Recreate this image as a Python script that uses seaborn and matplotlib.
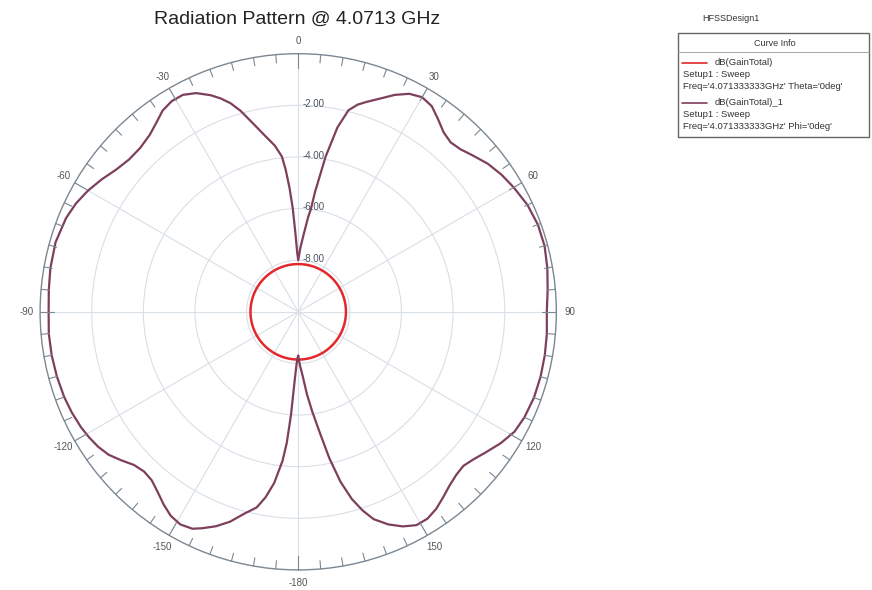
import matplotlib
matplotlib.use("Agg")
import matplotlib.pyplot as plt
import numpy as np
import pandas as pd
import seaborn as sns
from matplotlib.patches import Rectangle
from matplotlib.lines import Line2D

# %% data (angle in deg, gain in dB), Phi=0deg cut
phi_angles = [-180, -179, -178, -177, -176, -175, -174, -172, -170, -168,
              -165, -162, -159, -156, -154, -151, -148, -145, -142, -139,
              -136, -133, -130, -127, -124, -121, -118, -114, -110, -105,
              -100, -95, -90, -85, -80, -74, -68, -64, -60, -56,
              -52, -48, -44, -40, -37, -34, -31, -28, -25, -22,
              -20, -18, -16, -13, -11, -8, -6, -5, -4, -3,
              -2, -1, 0, 2, 4, 6, 7, 8, 10, 12,
              14, 16, 18, 21, 24, 27, 30, 33, 36, 39,
              42, 45, 48, 52, 56, 60, 65, 70, 75, 80,
              85, 90, 95, 100, 105, 110, 115, 119, 123, 127,
              130, 133, 136, 139, 142, 145, 148, 151, 154, 157,
              160, 162, 164, 166, 168, 170, 172, 174, 176, 178,
              179, 180]
phi_gain = [-8.3, -8.2, -7.9, -7.3, -6.0, -4.9, -4.2, -3.3, -2.7, -2.25,
            -1.9, -1.45, -1.1, -0.82, -0.65, -0.58, -0.68, -0.9, -1.15, -1.35,
            -1.4, -1.3, -1.05, -0.8, -0.65, -0.55, -0.47, -0.4, -0.35, -0.32,
            -0.3, -0.3, -0.33, -0.3, -0.25, -0.22, -0.3, -0.42, -0.6, -0.82,
            -1.05, -1.18, -1.18, -1.05, -0.85, -0.6, -0.48, -0.48, -0.65, -0.95,
            -1.2, -1.5, -1.9, -2.6, -3.0, -3.5, -3.95, -4.5, -5.2, -6.0,
            -7.0, -7.7, -8.0, -7.5, -7.0, -6.3, -6.0, -5.3, -3.9, -2.7,
            -1.95, -1.65, -1.45, -1.15, -0.8, -0.52, -0.4, -0.5, -0.78, -1.05,
            -1.17, -1.1, -0.93, -0.68, -0.5, -0.36, -0.2, -0.12, -0.12, -0.2,
            -0.3, -0.37, -0.33, -0.3, -0.28, -0.28, -0.33, -0.42, -0.65, -0.93,
            -1.12, -1.25, -1.2, -1.07, -0.88, -0.68, -0.55, -0.55, -0.75, -1.05,
            -1.45, -1.9, -2.45, -3.2, -4.2, -5.3, -6.1, -6.8, -7.5, -7.9,
            -8.1, -8.3]
theta_gain = -8.15  # Theta=0deg cut is flat

r_ticks = [-8, -6, -4, -2]
theta_ticks = [0, 30, 60, 90, 120, 150, 180, 210, 240, 270, 300, 330]
theta_labels = ["0", "30", "60", "90", "120", "150", "-180", "-150",
                "-120", "-90", "-60", "-30"]

legend_lines = [
    ("dB(GainTotal)", "Setup1 : Sweep", "Freq='4.071333333GHz' Theta='0deg'"),
    ("dB(GainTotal)_1", "Setup1 : Sweep", "Freq='4.071333333GHz' Phi='0deg'"),
]

red = "#e4282c"
maroon = "#7d3f5c"
grid_c = "#d9dfe7"
ring_c = "#7b8791"

# %% figure
sns.set_style("white")
plt.rcParams['font.family'] = ['Liberation Sans', 'DejaVu Sans']
plt.rcParams['axes.unicode_minus'] = False

fig = plt.figure(figsize=(8.72, 5.9), dpi=100)
ax = fig.add_axes([0.046, 0.034, 0.592, 0.875], projection='polar')
ax.set_theta_zero_location("N")
ax.set_theta_direction(-1)
ax.set_ylim(-10, 0)

df_phi = pd.DataFrame({"theta": np.deg2rad(phi_angles), "gain": phi_gain})
circle_t = np.linspace(-np.pi, np.pi, 361)
df_theta = pd.DataFrame({"theta": circle_t,
                         "gain": np.full(circle_t.size, theta_gain)})

sns.lineplot(data=df_theta, x="theta", y="gain", color=red, lw=1.8,
             ax=ax, sort=False, estimator=None)
sns.lineplot(data=df_phi, x="theta", y="gain", color=maroon, lw=1.6,
             ax=ax, sort=False, estimator=None)

# grid
ax.set_rgrids(r_ticks, labels=[""] * len(r_ticks))
ax.set_thetagrids(theta_ticks, labels=theta_labels)
ax.xaxis.grid(True, color=grid_c, lw=0.8)
ax.yaxis.grid(True, color=grid_c, lw=0.8)
ax.tick_params(axis='x', labelsize=7, labelcolor="#555555", pad=-1)
ax.spines['polar'].set_color(ring_c)
ax.spines['polar'].set_linewidth(1.0)
ax.set_xlabel("")
ax.set_ylabel("")

# small ticks on the outer ring every 5 deg
for a in range(0, 360, 5):
    t = np.deg2rad(a)
    ln = 0.55 if a % 30 == 0 else 0.32
    ax.plot([t, t], [0, -ln], color=ring_c, lw=0.8, clip_on=False)

for r in r_ticks:
    ax.annotate("%.2f" % r, xy=(0, r), xytext=(11, 1),
                textcoords='offset points', ha='center', va='center',
                fontsize=7, color="#4a5560")

fig.text(0.341, 0.968, "Radiation Pattern @ 4.0713 GHz", fontsize=14,
         ha='center', va='center', color="#222222")

# legend block drawn as in the HFSS curve info box
fig.text(0.838, 0.968, "HFSSDesign1", fontsize=6.5, ha='center',
         va='center', color="#333333")
box = Rectangle((0.778, 0.768), 0.218, 0.176, transform=fig.transFigure,
                fill=False, ec="#666666", lw=1.0)
fig.patches.append(box)
fig.add_artist(Line2D([0.778, 0.996], [0.912, 0.912],
                      transform=fig.transFigure, color="#999999", lw=0.6))
fig.text(0.889, 0.927, "Curve Info", fontsize=6.5, ha='center',
         va='center', color="#333333")
ys = [0.894, 0.826]
for (name, setup, freq), col, y in zip(legend_lines, [red, maroon], ys):
    fig.add_artist(Line2D([0.782, 0.811], [y, y], transform=fig.transFigure,
                          color=col, lw=1.2))
    fig.text(0.819, y, name, fontsize=6.8, va='center', color="#333333")
    fig.text(0.783, y - 0.02, setup, fontsize=6.8, va='center',
             color="#333333")
    fig.text(0.783, y - 0.04, freq, fontsize=6.8, va='center',
             color="#333333")

fig.savefig("out.png", dpi=100)
